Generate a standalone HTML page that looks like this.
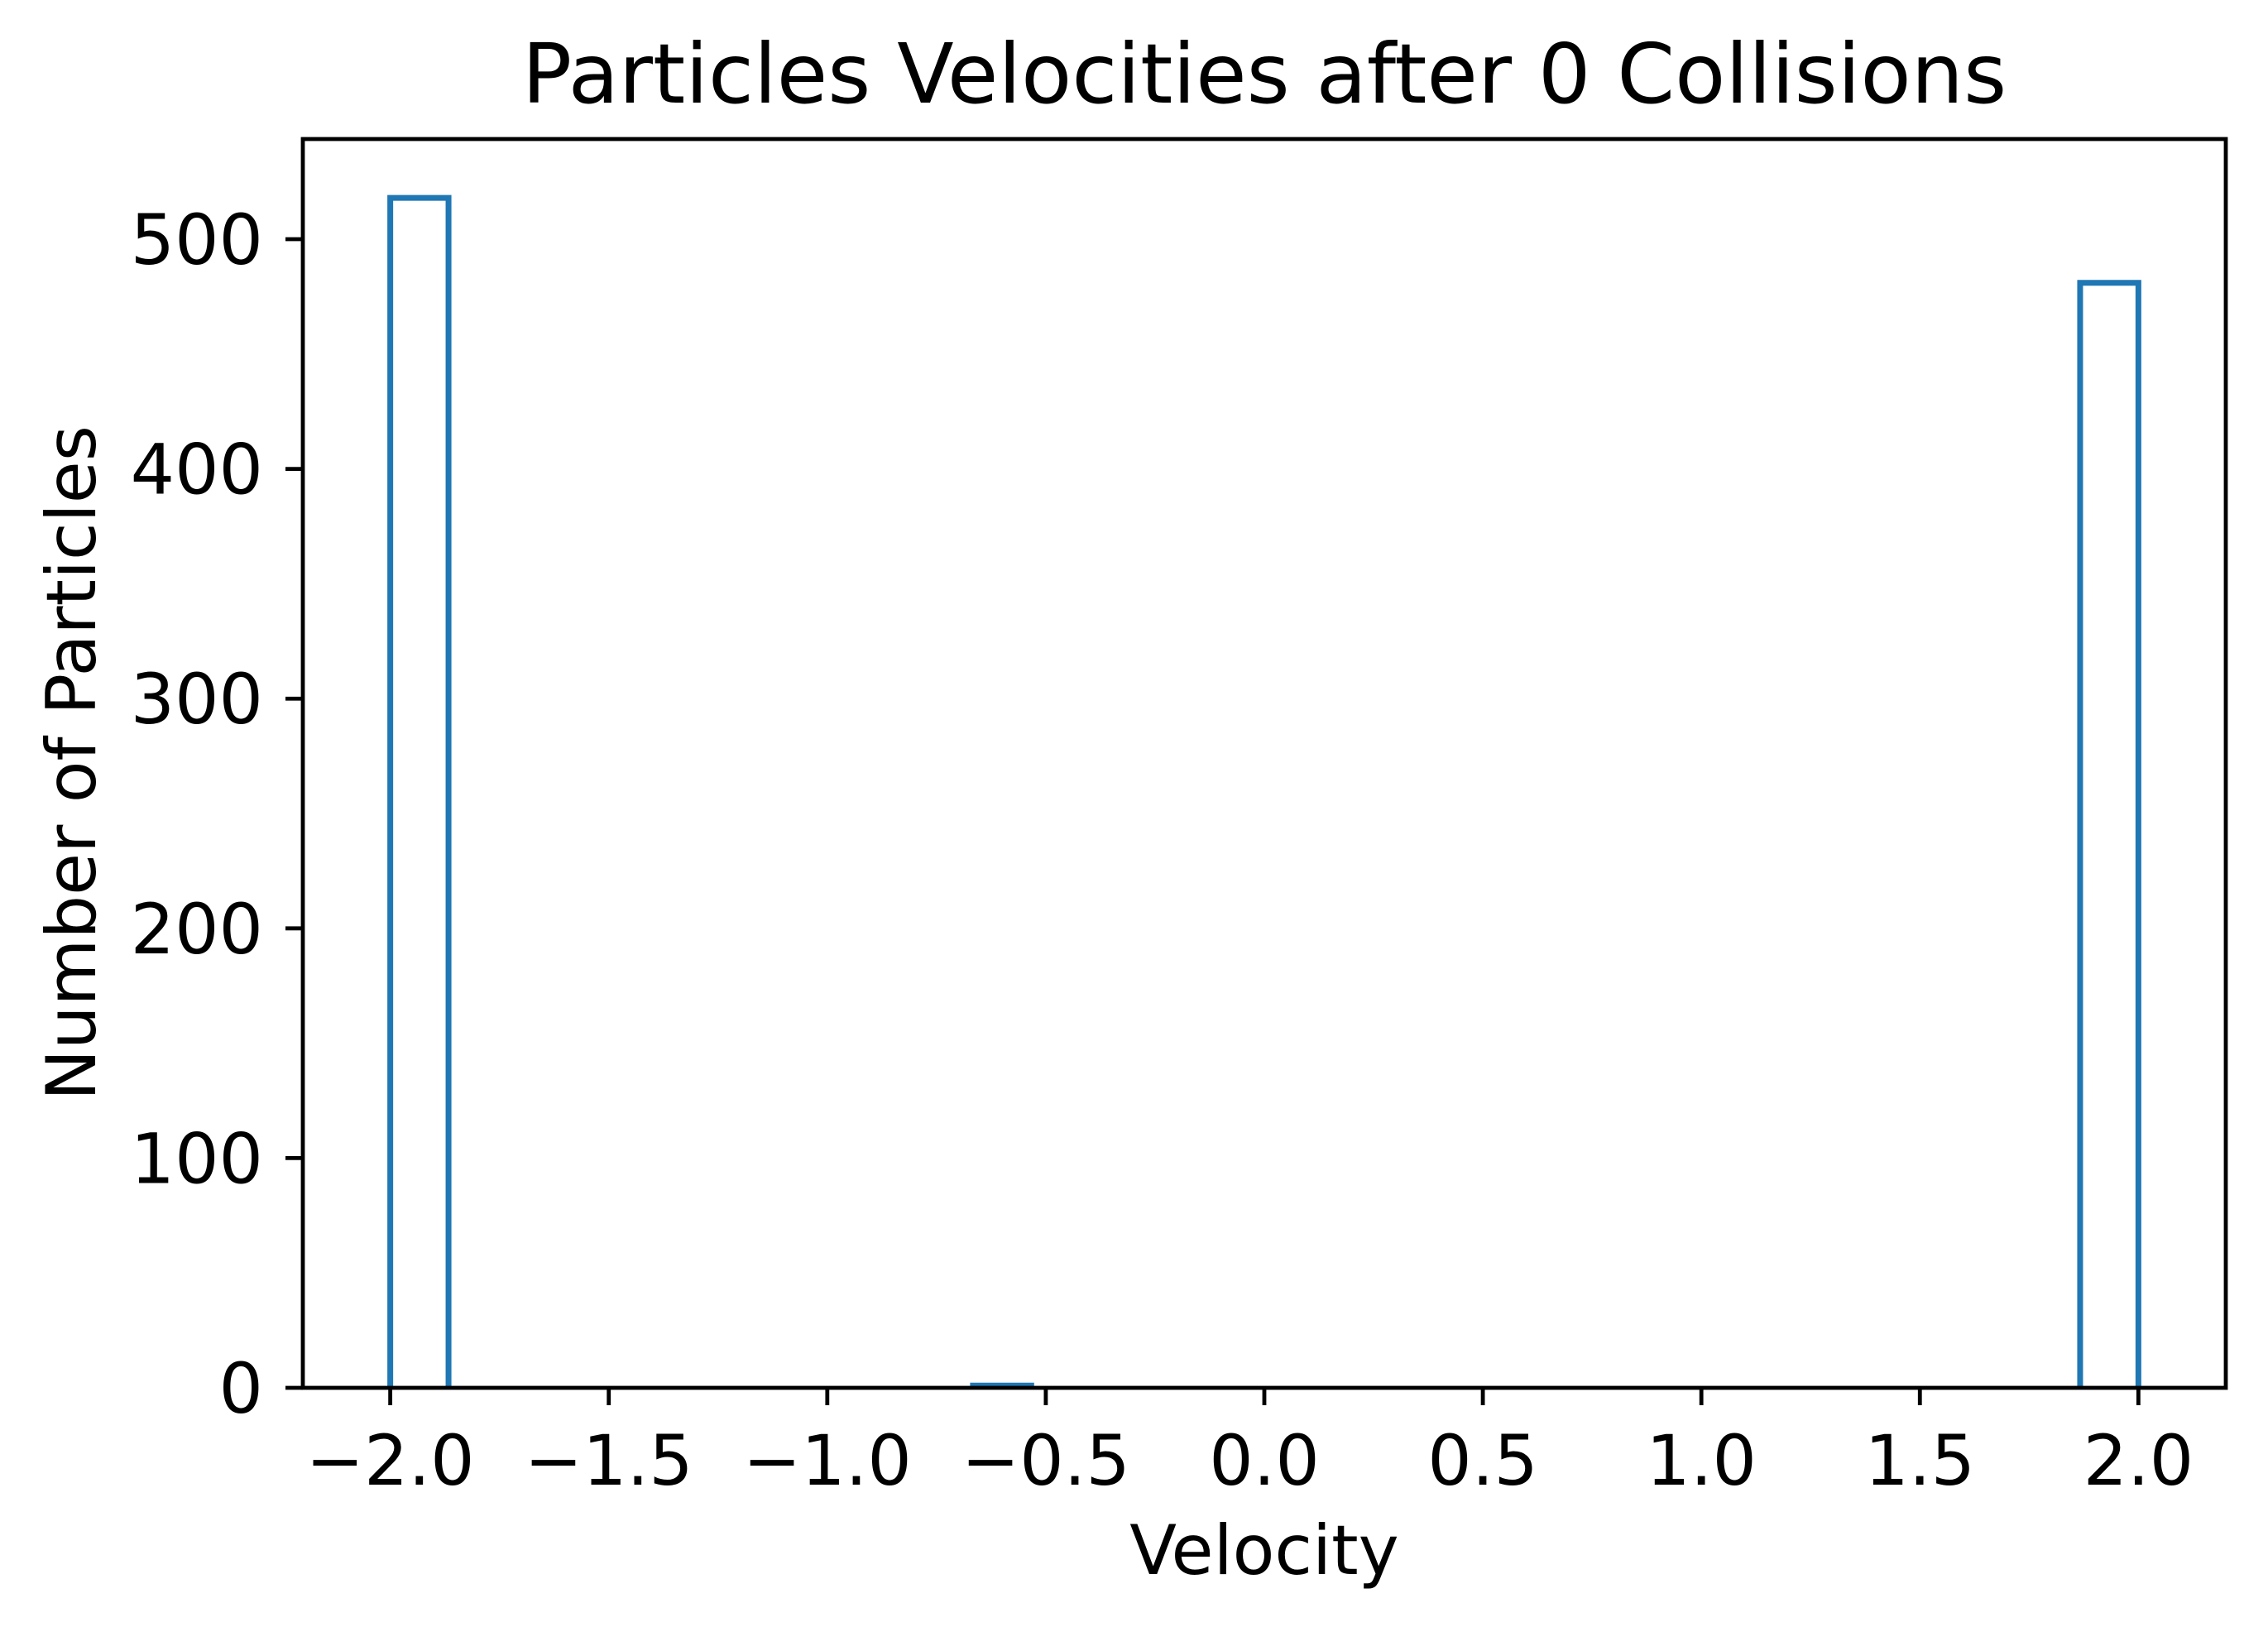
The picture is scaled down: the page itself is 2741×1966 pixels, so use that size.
<!DOCTYPE html>
<html><head><meta charset="utf-8"><style>
html,body{margin:0;padding:0;background:#fff;}
svg{display:block;font-family:"DejaVu Sans","Liberation Sans",sans-serif;}
</style></head><body>
<svg id="chart" width="2741" height="1966" viewBox="0 0 2741 1966" xmlns="http://www.w3.org/2000/svg">
<rect width="2741" height="1966" fill="#fff"/>
<text x="1528" y="124" font-size="100" text-anchor="middle">Particles Velocities after 0 Collisions</text>
<text x="1528" y="1902" font-size="83" text-anchor="middle">Velocity</text>
<text transform="translate(115,922) rotate(-90)" font-size="83" text-anchor="middle">Number of Particles</text>
<g id="bars"></g>
<g id="ticks"></g>
<rect x="366" y="168" width="2324" height="1509" fill="none" stroke="#000" stroke-width="4.8"/>
</svg>
<script>
const binStart = -2.0;
const binWidth = 4/30;
const binCounts = [518,0,0,0,0,0,0,0,0,0,1,0,0,0,0,0,0,0,0,0,0,0,0,0,0,0,0,0,0,481];
const xTicks = [-2.0,-1.5,-1.0,-0.5,0.0,0.5,1.0,1.5,2.0];
const xTickLabels = ["\u22122.0","\u22121.5","\u22121.0","\u22120.5","0.0","0.5","1.0","1.5","2.0"];
const yTicks = [0,100,200,300,400,500];
const yTickLabels = ["0","100","200","300","400","500"];

const X0=366,X1=2690,Y0=1677,Y1=168,xmin=-2.2,xmax=2.2,ymin=0,ymax=543.6;
const sx=v=>X0+(v-xmin)/(xmax-xmin)*(X1-X0);
const sy=v=>Y0-(v-ymin)/(ymax-ymin)*(Y0-Y1);
const NS="http://www.w3.org/2000/svg";
const bars=document.getElementById('bars');
binCounts.forEach((c,i)=>{
  if(c<=0) return;
  const a=sx(binStart+i*binWidth), b=sx(binStart+(i+1)*binWidth), t=sy(c);
  const p=document.createElementNS(NS,'path');
  p.setAttribute('d',`M${a},${Y0} L${a},${t} L${b},${t} L${b},${Y0}`);
  p.setAttribute('fill','none');p.setAttribute('stroke','#1f77b4');p.setAttribute('stroke-width','7');
  
  
  bars.appendChild(p);
});
const tk=document.getElementById('ticks');
xTicks.forEach((v,i)=>{
  const x=sx(v);
  const l=document.createElementNS(NS,'line');
  l.setAttribute('x1',x);l.setAttribute('x2',x);l.setAttribute('y1',Y0);l.setAttribute('y2',Y0+21);
  l.setAttribute('stroke','#000');l.setAttribute('stroke-width','4.8');
  
  
  tk.appendChild(l);
  const t=document.createElementNS(NS,'text');
  t.setAttribute('x',x);t.setAttribute('y',Y0+117);t.setAttribute('font-size','84');t.setAttribute('text-anchor','middle');
  t.textContent=xTickLabels[i];
  
  
  tk.appendChild(t);
});
yTicks.forEach((v,i)=>{
  const y=sy(v);
  const l=document.createElementNS(NS,'line');
  l.setAttribute('x1',X0-21);l.setAttribute('x2',X0);l.setAttribute('y1',y);l.setAttribute('y2',y);
  l.setAttribute('stroke','#000');l.setAttribute('stroke-width','4.8');
  
  
  tk.appendChild(l);
  const t=document.createElementNS(NS,'text');
  t.setAttribute('x',X0-48);t.setAttribute('y',y+30);t.setAttribute('font-size','84');t.setAttribute('text-anchor','end');
  t.textContent=yTickLabels[i];
  
  
  tk.appendChild(t);
});
</script>
</body></html>
